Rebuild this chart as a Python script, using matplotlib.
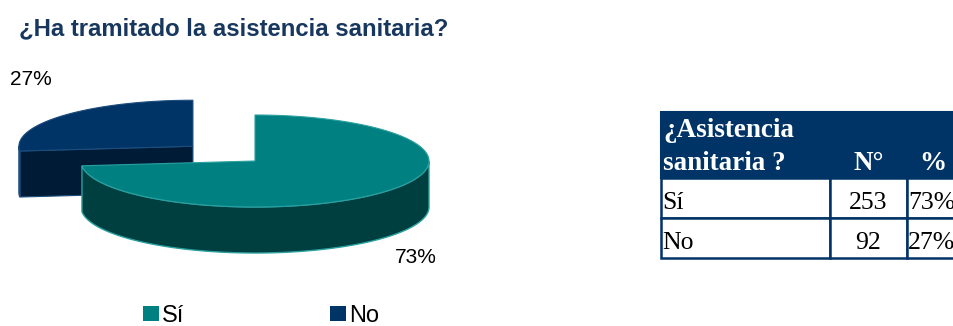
#!/usr/bin/env python3
# plot.py -- exploded 3D-style pie + summary table (asistencia sanitaria)

import numpy as np
import matplotlib
matplotlib.use("Agg")
import matplotlib.pyplot as plt
from matplotlib.patches import Polygon, Rectangle

plt.rcParams["font.family"] = ["Liberation Sans", "DejaVu Sans"]

TITLE = "¿Ha tramitado la asistencia sanitaria?"
CATEGORIES = ["Sí", "No"]
COUNTS = [253, 92]
PCTS = [73, 27]
TABLE_HEADER = ["¿Asistencia\nsanitaria ?", "N°", "%"]

TOP = {"Sí": "#008080", "No": "#003366"}
SIDE = {"Sí": "#003f3f", "No": "#001b36"}
EDGE = {"Sí": "#2aa0a0", "No": "#1d4d7d"}
NAVY = "#003366"
TITLE_C = "#17375e"

# pie geometry, in pixels (y down)
CX, CY = 255, 161
RX, RY = 174, 46
DEPTH = 46
EXPLODE = {"Sí": 0.0, "No": 0.48}


def arc(cx, cy, a0, a1, n=120):
    t = np.radians(np.linspace(a0, a1, n))
    return cx + RX * np.cos(t), cy - RY * np.sin(t)


def draw_slice(ax, name, a0, a1):
    mid = np.radians((a0 + a1) / 2)
    cx = CX + EXPLODE[name] * RX * np.cos(mid)
    cy = CY - EXPLODE[name] * RY * np.sin(mid)
    side, top, edge = SIDE[name], TOP[name], EDGE[name]
    # radial cut faces facing the viewer
    for ang, vis in ((a1, np.cos(np.radians(a1)) < -1e-6),
                     (a0, np.cos(np.radians(a0)) > 1e-6)):
        if vis:
            ex, ey = arc(cx, cy, ang, ang, 1)
            pts = [(cx, cy), (ex[0], ey[0]), (ex[0], ey[0] + DEPTH), (cx, cy + DEPTH)]
            ax.add_patch(Polygon(pts, closed=True, fc=side, ec=edge, lw=0.8))
    # outer wall, front half only
    for lo, hi in ((-180, 0), (180, 360)):
        s, e = max(a0, lo), min(a1, hi)
        if e > s:
            x, y = arc(cx, cy, s, e)
            pts = np.column_stack([np.r_[x, x[::-1]], np.r_[y, (y + DEPTH)[::-1]]])
            ax.add_patch(Polygon(pts, closed=True, fc=side, ec=edge, lw=1.0))
    # top face
    x, y = arc(cx, cy, a0, a1)
    pts = np.column_stack([np.r_[cx, x], np.r_[cy, y]])
    ax.add_patch(Polygon(pts, closed=True, fc=top, ec=edge, lw=0.8))


fig = plt.figure(figsize=(9.54, 3.26), dpi=100)
ax = fig.add_axes([0, 0, 1, 1])
ax.set_xlim(0, 954)
ax.set_ylim(326, 0)
ax.axis("off")

ax.text(19, 35, TITLE, fontsize=17.2, fontweight="bold", color=TITLE_C,
        ha="left", va="baseline")

# pie: first slice starts at 12 o'clock and runs clockwise
total = sum(COUNTS)
spans = [360.0 * c / total for c in COUNTS]
yes_a0, yes_a1 = 90 - spans[0], 90
no_a0, no_a1 = 90, 90 + spans[1]
draw_slice(ax, "No", no_a0, no_a1)
draw_slice(ax, "Sí", yes_a0, yes_a1)

ax.text(10, 85, f"{PCTS[1]}%", fontsize=15, ha="left", va="baseline")
ax.text(395, 263, f"{PCTS[0]}%", fontsize=15, ha="left", va="baseline")

# legend
for (name, lx) in zip(CATEGORIES, (143, 330)):
    ax.add_patch(Rectangle((lx, 306), 16, 15, fc=TOP[name], ec="none"))
    ax.text(lx + 19, 322, name, fontsize=17, ha="left", va="baseline")

# table
col_x = [661, 830, 907, 962]
row_y = [112, 178, 218, 258]
ax.add_patch(Rectangle((col_x[0], row_y[0]), col_x[-1] - col_x[0],
                       row_y[1] - row_y[0], fc=NAVY, ec=NAVY, lw=1.5))
serif = ["Liberation Serif", "DejaVu Serif"]
for k, line in enumerate(TABLE_HEADER[0].split("\n")):
    ax.text(col_x[0] + 2, 137 + 33 * k, line, family=serif, fontsize=19.5,
            fontweight="bold", color="white", ha="left", va="baseline")
ax.text((col_x[1] + col_x[2]) / 2, 170, TABLE_HEADER[1], family=serif,
        fontsize=19.5, fontweight="bold", color="white", ha="center", va="baseline")
ax.text(933, 170, TABLE_HEADER[2], family=serif, fontsize=19.5,
        fontweight="bold", color="white", ha="center", va="baseline")
for i, (name, n, p) in enumerate(zip(CATEGORIES, COUNTS, PCTS)):
    y0, y1 = row_y[i + 1], row_y[i + 2]
    for j in range(3):
        ax.add_patch(Rectangle((col_x[j], y0), col_x[j + 1] - col_x[j], y1 - y0,
                               fc="white", ec=NAVY, lw=1.8))
    yb = y1 - 9
    ax.text(col_x[0] + 1, yb, name, family=serif, fontsize=18.5,
            ha="left", va="baseline")
    ax.text((col_x[1] + col_x[2]) / 2, yb, str(n), family=serif, fontsize=18.5,
            ha="center", va="baseline")
    ax.text(col_x[2] + 1, yb, f"{p}%", family=serif, fontsize=18.5,
            ha="left", va="baseline")

fig.savefig("out.png", dpi=100)
